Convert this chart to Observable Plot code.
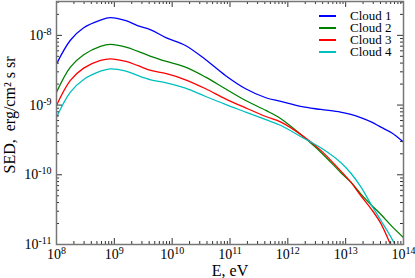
<!DOCTYPE html>
<html><head><meta charset="utf-8">
<script src="https://cdn.jsdelivr.net/npm/d3@7"></script>
<script src="https://cdn.jsdelivr.net/npm/@observablehq/plot@0.6"></script>
<style>
body{margin:0;background:#fff}
#wrap{position:relative;width:415px;height:278px;font-family:'Liberation Serif',serif}
#wrap svg{display:block}
#legend{position:absolute;left:319px;top:10px;font-size:13px;line-height:12px;color:#000}
#legend .row{display:flex;align-items:center;height:12px}
#legend .sw{display:inline-block;width:17px;height:1.5px;margin-right:14px}
</style>
</head><body><div id="wrap"></div>
<script>
// log10 of photon energy E [eV]
const logE   = [8.0, 8.24, 8.47, 8.76, 8.93, 9.2, 9.4, 9.63, 9.9, 10.23, 10.58, 10.92, 11.27, 11.62, 11.88, 12.22, 12.57, 12.91, 13.09, 13.26, 13.45, 13.61, 13.8, 14.0];
// log10 of SED [erg/cm^2 s sr]
const cloud1 = [-8.41, -8.07, -7.89, -7.78, -7.745, -7.79, -7.86, -7.92, -8.035, -8.145, -8.35, -8.575, -8.766, -8.895, -8.948, -9.02, -9.063, -9.10, -9.135, -9.18, -9.245, -9.317, -9.40, -9.532];
const cloud2 = [-8.815, -8.456, -8.278, -8.159, -8.13, -8.169, -8.227, -8.30, -8.374, -8.456, -8.60, -8.766, -8.934, -9.077, -9.196, -9.42, -9.676, -9.963, -10.106, -10.273, -10.44, -10.57, -10.74, -10.9];
const cloud3 = [-9.006, -8.647, -8.47, -8.36, -8.336, -8.374, -8.432, -8.504, -8.55, -8.637, -8.766, -8.91, -9.04, -9.164, -9.245, -9.42, -9.65, -9.94, -10.106, -10.297, -10.5, -10.70, -11.05, -11.45];
const cloud4 = [-9.174, -8.815, -8.633, -8.514, -8.48, -8.514, -8.575, -8.637, -8.68, -8.757, -8.877, -8.99, -9.10, -9.21, -9.293, -9.45, -9.613, -9.82, -9.978, -10.17, -10.44, -10.656, -10.92, -11.25];
const seriesNames  = ["Cloud 1", "Cloud 2", "Cloud 3", "Cloud 4"];
const seriesColors = ["#0000ff", "#008000", "#ff0000", "#00bfbf"];
const xTickExps = [8, 9, 10, 11, 12, 13, 14];
const yTickExps = [-11, -10, -9, -8];
const xLabel = "E, eV";
const yLabel = "SED,  erg/cm² s sr";

const allSeries = [cloud1, cloud2, cloud3, cloud4];
const rows = allSeries.flatMap((vals, s) => vals.map((v, i) => ({E: 10 ** logE[i], SED: 10 ** v, series: seriesNames[s]})));

const powFmt = e => "10|" + Math.round(Math.log10(e));

const yMax = 3.06e-8, yMin = 1e-11;
const xMajor = xTickExps.map(e => 10 ** e);
const xMinor = xTickExps.slice(0, -1).flatMap(e => [2,3,4,5,6,7,8,9].map(m => m * 10 ** e));
const yMajor = yTickExps.map(e => 10 ** e);
const yMinor = yTickExps.flatMap(e => [2,3,4,5,6,7,8,9].map(m => m * 10 ** e)).filter(v => v < yMax);

const W = 415, H = 278, mL = 56, mR = 12, mT = 1, mB = 34;
const fw = W - mL - mR, fh = H - mT - mB;
const tickStroke = "#333";

const chart = Plot.plot({
  width: W, height: H,
  marginLeft: mL, marginRight: mR, marginTop: mT, marginBottom: mB,
  style: {fontFamily: "'Liberation Serif', serif", fontSize: "14px", background: "#fff", color: "#000"},
  x: {type: "log", domain: [1e8, 1e14], axis: null},
  y: {type: "log", domain: [yMin, yMax], axis: null},
  color: {domain: seriesNames, range: seriesColors},
  marks: [
    Plot.line(rows, {x: "E", y: "SED", z: "series", stroke: "series", curve: "catmull-rom", strokeWidth: 1.3, clip: true}),
    Plot.tickX(xMajor, {x: d => d, insetTop: fh - 6, stroke: tickStroke}),
    Plot.tickX(xMajor, {x: d => d, insetBottom: fh - 6, stroke: tickStroke}),
    Plot.tickX(xMinor, {x: d => d, insetTop: fh - 3, stroke: tickStroke}),
    Plot.tickX(xMinor, {x: d => d, insetBottom: fh - 3, stroke: tickStroke}),
    Plot.tickY(yMajor, {y: d => d, insetRight: fw - 6, stroke: tickStroke}),
    Plot.tickY(yMajor, {y: d => d, insetLeft: fw - 6, stroke: tickStroke}),
    Plot.tickY(yMinor, {y: d => d, insetRight: fw - 3, stroke: tickStroke}),
    Plot.tickY(yMinor, {y: d => d, insetLeft: fw - 3, stroke: tickStroke}),
    Plot.frame({stroke: "#777", strokeWidth: 1.5}),
    Plot.axisX(xMajor, {anchor: "bottom", label: null, tickSize: 0, tickPadding: 5, tickFormat: powFmt, fontSize: 14}),
    Plot.axisY(yMajor, {anchor: "left", label: null, tickSize: 0, tickPadding: 5, tickFormat: powFmt, fontSize: 14}),
    Plot.text([xLabel], {frameAnchor: "bottom", textAnchor: "middle", dy: 31, lineAnchor: "bottom", fontSize: 16, text: d => d}),
    Plot.text([yLabel], {frameAnchor: "left", textAnchor: "middle", lineAnchor: "middle", rotate: -90, dx: -47, dy: -8, fontSize: 16, text: d => d})
  ]
});

// turn "10|e" tick labels into 10 with a raised exponent
d3.select(chart).selectAll("g[aria-label$='tick label'] text").each(function() {
  const t = this.textContent;
  if (!t.includes("|")) return;
  const [base, exp] = t.split("|");
  const sel = d3.select(this).text("");
  sel.append("tspan").text(base);
  sel.append("tspan").attr("dy", "-0.5em").attr("font-size", "10px").text(exp);
});

const wrap = document.getElementById("wrap");
wrap.appendChild(chart);
const legend = document.createElement("div");
legend.id = "legend";
seriesNames.forEach((name, i) => {
  const row = document.createElement("div");
  row.className = "row";
  const sw = document.createElement("span");
  sw.className = "sw";
  sw.style.background = seriesColors[i];
  const lab = document.createElement("span");
  lab.textContent = name;
  row.appendChild(sw); row.appendChild(lab);
  legend.appendChild(row);
});
wrap.appendChild(legend);
</script>
</body></html>
